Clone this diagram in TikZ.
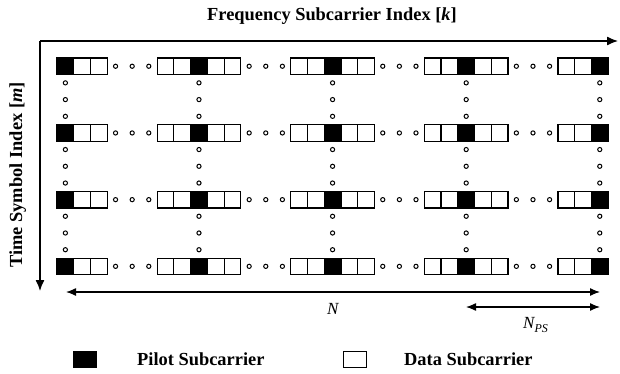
\documentclass[tikz,border=0pt]{standalone}
\usepackage{fontspec}
\setmainfont{Liberation Serif}
\usetikzlibrary{arrows.meta}
\begin{document}
\begin{tikzpicture}[x=1pt,y=-1pt,
 cell/.style={draw, line width=1.2pt, minimum width=16.75pt, minimum height=16.5pt, inner sep=0, outer sep=0, anchor=north west},
 k0/.style={fill=black}, k1/.style={}, k2/.style={}, k-1/.style={}, k-2/.style={},
 dot/.style={circle, draw, line width=1pt, minimum size=4.2pt, inner sep=0},
 lbl/.style={font=\fontsize{18.4}{22}\selectfont\bfseries, inner sep=0},
 dimlbl/.style={font=\fontsize{17}{20}\selectfont\itshape, inner sep=0},
 axis/.style={line width=1.3pt, -{Latex[length=11pt,width=9pt]}},
 dimarrow/.style={line width=1.3pt, {Latex[length=10pt,width=8pt]}-{Latex[length=10pt,width=8pt]}},
 legbox/.style={draw, line width=1.2pt, minimum width=23pt, minimum height=16pt, inner sep=0, anchor=north west}]
\useasboundingbox (0,0) rectangle (620,374);
\def\w{16.75}\def\h{16.5}
% cells
\foreach \i/\kmin/\kmax in {0/0/2, 1/-2/2, 2/-2/2, 3/-2/2, 4/-2/0}{
  \foreach \j in {0,...,3}{
    \foreach \k in {\kmin,...,\kmax}{
      \node[cell, k\k] (c-\i-\j-\k) at ({57+133.6*\i+\w*\k},{58+66.7*\j}) {};
    }
  }
}
% horizontal dots
\foreach \i in {0,...,3}{
  \foreach \j in {0,...,3}{
    \foreach \f [count=\n] in {0.1667,0.5,0.8333}{
      \node[dot] (hd-\i-\j-\n) at ({57+133.6*\i+3*\w + \f*(133.6-5*\w)},{58+66.7*\j+\h/2}) {};
    }
  }
}
% vertical dots
\foreach \i in {0,...,4}{
  \foreach \j in {0,...,2}{
    \foreach \f [count=\n] in {0.1667,0.5,0.8333}{
      \node[dot] (vd-\i-\j-\n) at ({57+133.6*\i+\w/2},{58+66.7*\j+\h + \f*(66.7-\h)}) {};
    }
  }
}
% axes
\coordinate (O) at (40,41);
\coordinate (xe) at (618,41);
\coordinate (ye) at (40,291);
\draw[axis] (O) -- (xe);
\draw[axis] (O) -- (ye);
\node[lbl, anchor=base] (xlab) at (332,21) {Frequency Subcarrier Index [\textit{k}]};
\node[lbl, anchor=base, rotate=90] (ylab) at (22,175) {Time Symbol Index [\textit{m}]};
% dimensions
\coordinate (nl) at (66,292);
\coordinate (nr) at (600,292);
\coordinate (psl) at (466,307);
\coordinate (psr) at (600,307);
\draw[dimarrow] (nl) -- (nr);
\draw[dimarrow] (psl) -- (psr);
\node[dimlbl, anchor=base west] (nlab) at (327,314) {N};
\node[dimlbl, anchor=base west] (pslab) at (523,328) {N\raisebox{-0.25em}{\fontsize{12}{13}\selectfont PS}};
% legend
\node[legbox, fill=black] (legp) at (73,351) {};
\node[lbl, anchor=base west] (legpt) at (137,365) {Pilot Subcarrier};
\node[legbox] (legd) at (343,351) {};
\node[lbl, anchor=base west] (legdt) at (404,365) {Data Subcarrier};
\end{tikzpicture}
\end{document}
